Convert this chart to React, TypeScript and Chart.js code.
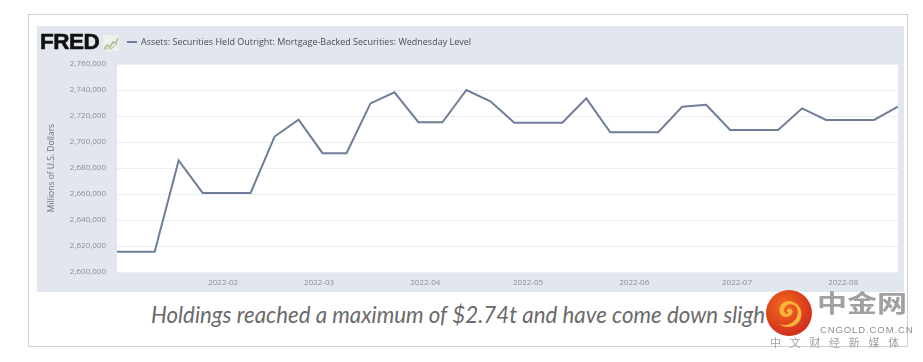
import React, { useEffect, useRef } from "react";
import { Chart, registerables } from "chart.js";

Chart.register(...registerables);

// Weekly (Wednesday) observations
const weekDates: string[] = [
  "2021-12-29", "2022-01-05", "2022-01-12", "2022-01-19", "2022-01-26",
  "2022-02-02", "2022-02-09", "2022-02-16", "2022-02-23",
  "2022-03-02", "2022-03-09", "2022-03-16", "2022-03-23", "2022-03-30",
  "2022-04-06", "2022-04-13", "2022-04-20", "2022-04-27",
  "2022-05-04", "2022-05-11", "2022-05-18", "2022-05-25",
  "2022-06-01", "2022-06-08", "2022-06-15", "2022-06-22", "2022-06-29",
  "2022-07-06", "2022-07-13", "2022-07-20", "2022-07-27",
  "2022-08-03", "2022-08-10", "2022-08-17",
];

// Millions of U.S. Dollars
const mbsValues: number[] = [
  2615600, 2615600, 2615600, 2685800, 2660800,
  2660800, 2660800, 2704200, 2717200,
  2691400, 2691400, 2729700, 2738200, 2715200,
  2715200, 2740000, 2731300, 2714900,
  2714900, 2714900, 2733600, 2707500,
  2707500, 2707500, 2727200, 2728700, 2709300,
  2709300, 2709300, 2725900, 2717000,
  2717000, 2717000, 2727200,
];

const xRangeStart = "2022-01-01";
const xRangeEnd = "2022-08-17";
const monthTickDates: string[] = [
  "2022-02-01", "2022-03-01", "2022-04-01", "2022-05-01",
  "2022-06-01", "2022-07-01", "2022-08-01",
];
const monthTickLabels: string[] = [
  "2022-02", "2022-03", "2022-04", "2022-05", "2022-06", "2022-07", "2022-08",
];

const yMin = 2600000;
const yMax = 2760000;
const yStep = 20000;

const seriesName =
  "Assets: Securities Held Outright: Mortgage-Backed Securities: Wednesday Level";
const yTitle = "Millions of U.S. Dollars";
const caption = "Holdings reached a maximum of $2.74t and have come down sligh";

const LINE_COLOR = "#6f7d98";
const PANEL = "#e2e7ef";

function dayIndex(s: string): number {
  const [y, m, d] = s.split("-").map(Number);
  return (Date.UTC(y, m - 1, d) - Date.UTC(2022, 0, 1)) / 86400000;
}

const plotBg = {
  id: "plotBg",
  beforeDraw(chart: any) {
    const { ctx, chartArea } = chart;
    ctx.save();
    ctx.fillStyle = "#ffffff";
    ctx.fillRect(
      chartArea.left,
      chartArea.top,
      chartArea.right - chartArea.left,
      chartArea.bottom - chartArea.top
    );
    ctx.restore();
  },
};

export default function App() {
  const ref = useRef<HTMLCanvasElement | null>(null);

  useEffect(() => {
    if (!ref.current) return;
    const tickDays = monthTickDates.map(dayIndex);
    const points = weekDates.map((d, i) => ({ x: dayIndex(d), y: mbsValues[i] }));
    const chart = new Chart(ref.current, {
      type: "line",
      data: {
        datasets: [
          {
            label: seriesName,
            data: points,
            borderColor: LINE_COLOR,
            borderWidth: 2,
            pointRadius: 0,
            tension: 0,
            fill: false,
            clip: 0,
          } as any,
        ],
      },
      plugins: [plotBg],
      options: {
        animation: false,
        responsive: false,
        devicePixelRatio: 1,
        layout: { padding: { top: 38, right: 6, left: 0, bottom: 0 } },
        plugins: {
          legend: { display: false },
          tooltip: { enabled: false },
        },
        scales: {
          x: {
            type: "linear",
            min: dayIndex(xRangeStart),
            max: dayIndex(xRangeEnd),
            grid: { display: false, drawTicks: false },
            border: { display: false },
            afterBuildTicks: (scale: any) => {
              scale.ticks = tickDays.map((v) => ({ value: v }));
            },
            afterFit: (scale: any) => {
              scale.height = 20;
            },
            ticks: {
              autoSkip: false,
              maxRotation: 0,
              padding: 6,
              color: "#8a8d93",
              font: { family: "'Open Sans', sans-serif", size: 8 },
              callback: (v: any) => {
                const i = tickDays.indexOf(Number(v));
                return i >= 0 ? monthTickLabels[i] : "";
              },
            },
          },
          y: {
            min: yMin,
            max: yMax,
            grid: { color: "#eaedf1", lineWidth: 1, drawTicks: false },
            border: { display: false },
            afterFit: (scale: any) => {
              scale.width = 80;
            },
            title: {
              display: true,
              text: yTitle,
              color: "#6f7278",
              font: { family: "'Open Sans', sans-serif", size: 8.5 },
              padding: { top: 9, bottom: 0 },
            },
            ticks: {
              stepSize: yStep,
              padding: 11,
              color: "#8a8d93",
              font: { family: "'Open Sans', sans-serif", size: 8 },
              callback: (v: any) => Number(v).toLocaleString("en-US"),
            },
          },
        },
      },
    });
    return () => chart.destroy();
  }, []);

  return (
    <div
      style={{
        position: "fixed",
        left: 0,
        top: 0,
        width: 923,
        height: 362,
        background: "#ffffff",
        overflow: "hidden",
      }}
    >
      {/* outer frame */}
      <div
        style={{
          position: "absolute",
          left: 28,
          top: 14,
          width: 880,
          height: 333,
          border: "1px solid #cfcfcf",
          boxSizing: "border-box",
        }}
      />
      {/* panel */}
      <div
        style={{
          position: "absolute",
          left: 37,
          top: 26,
          width: 867,
          height: 266,
          background: PANEL,
        }}
      />
      <canvas
        ref={ref}
        width={867}
        height={266}
        style={{ position: "absolute", left: 37, top: 26, width: 867, height: 266 }}
      />
      {/* FRED logo */}
      <div
        style={{
          position: "absolute",
          left: 40,
          top: 29,
          fontFamily: "'Liberation Sans', Arial, sans-serif",
          fontWeight: 700,
          fontSize: 22.5,
          letterSpacing: -0.5,
          color: "#111",
          lineHeight: "26px",
          WebkitTextStroke: "0.6px #111",
        }}
      >
        FRED
      </div>
      <svg
        style={{ position: "absolute", left: 103, top: 35 }}
        width={16}
        height={16}
        viewBox="0 0 16 16"
      >
        <rect x={0} y={0} width={16} height={16} fill="#eef1ec" />
        <polyline
          points="1,14 4,10 7,12 10,7 13,8 15,3"
          fill="none"
          stroke="#a9bd9c"
          strokeWidth={1.6}
        />
        <polyline
          points="1,15 5,13 8,14 12,10 15,9"
          fill="none"
          stroke="#c5d0bd"
          strokeWidth={1.2}
        />
      </svg>
      {/* legend */}
      <div
        style={{
          position: "absolute",
          left: 127,
          top: 41,
          width: 10,
          height: 2,
          background: LINE_COLOR,
        }}
      />
      <div
        style={{
          position: "absolute",
          left: 141,
          top: 36,
          fontFamily: "'Open Sans', sans-serif",
          fontSize: 9,
          lineHeight: "12px",
          color: "#4a4d52",
          whiteSpace: "nowrap",
        }}
      >
        {seriesName}
      </div>
      {/* caption */}
      <div
        style={{
          position: "absolute",
          left: 151,
          top: 300,
          fontFamily: "Lato, 'Open Sans', sans-serif",
          fontStyle: "italic",
          fontSize: 22.3,
          lineHeight: "30px",
          color: "#6a6a6a",
          whiteSpace: "nowrap",
        }}
      >
        {caption}
      </div>
      {/* watermark */}
      <svg
        style={{ position: "absolute", left: 765, top: 289 }}
        width={48}
        height={48}
        viewBox="0 0 48 48"
      >
        <defs>
          <radialGradient id="wmg" cx="40%" cy="35%" r="70%">
            <stop offset="0%" stopColor="#f26a1f" />
            <stop offset="100%" stopColor="#cf2a1c" />
          </radialGradient>
        </defs>
        <circle cx={24} cy={24} r={23} fill="url(#wmg)" />
        <path
          d="M25 12 C17 12 13 18 15 24 C17 29 24 29 27 25 C29 22 26 18 23 20 C21 21 22 24 24 24 C22 26 18 24 19 20 C20 16 25 14 29 16 C34 19 34 27 29 32 C25 36 19 37 14 35 C19 39 28 39 33 34 C39 28 38 15 25 12 Z"
          fill="#f7b53a"
        />
      </svg>
      <div
        style={{
          position: "absolute",
          left: 817,
          top: 287,
          fontFamily: "'Noto Sans CJK SC', sans-serif",
          fontWeight: 700,
          fontSize: 30,
          lineHeight: "36px",
          letterSpacing: 0,
          color: "#a0a0a0",
          whiteSpace: "nowrap",
          transform: "scaleY(0.8)",
          transformOrigin: "top left",
        }}
      >
        中金网
      </div>
      <div
        style={{
          position: "absolute",
          left: 820,
          top: 324,
          fontFamily: "'Liberation Sans', Arial, sans-serif",
          fontSize: 9.5,
          lineHeight: "11px",
          letterSpacing: 0.9,
          color: "#8e8e8e",
          whiteSpace: "nowrap",
        }}
      >
        CNGOLD.COM.CN
      </div>
      <div
        style={{
          position: "absolute",
          left: 770,
          top: 335,
          fontFamily: "'Noto Sans CJK SC', sans-serif",
          fontSize: 11,
          lineHeight: "14px",
          letterSpacing: 8.7,
          color: "#a3a3a3",
          whiteSpace: "nowrap",
        }}
      >
        中文财经新媒体
      </div>
    </div>
  );
}
